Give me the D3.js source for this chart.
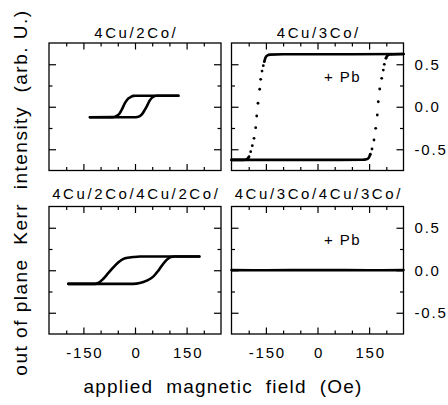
<!DOCTYPE html>
<html>
<head>
<meta charset="utf-8">
<script src="https://cdn.jsdelivr.net/npm/d3@7"></script>
<style>
  body { margin: 0; background: #fff; }
  svg { display: block; font-family: "Liberation Sans", Arial, Helvetica, sans-serif; }
</style>
</head>
<body>
<svg id="chart" width="448" height="405"></svg>
<script>
// axis ticks
const fieldTicks = [-150, 0, 150];
const fieldMinorTicks = [-200, -100, -50, 50, 100, 200];
const kerrTicks = [-0.5, 0, 0.5];
const kerrMinorTicks = [-0.25, 0.25];

const panelTitles = ['4Cu/2Co/', '4Cu/3Co/', '4Cu/2Co/4Cu/2Co/', '4Cu/3Co/4Cu/3Co/'];
const pbLabel = '+ Pb';

// 4Cu/2Co/  (field Oe, Kerr arb. U.)
const cu2coDown = [[-131, -0.124], [-65, -0.122], [-55, -0.11], [-46, -0.085], [-38, -0.03], [-29, 0.045], [-20, 0.095], [-12, 0.115], [-5, 0.128], [0, 0.13], [126, 0.13]];
const cu2coUp = [[-131, -0.124], [-5, -0.124], [10, -0.117], [20, -0.09], [28, -0.04], [35, 0.01], [43, 0.075], [52, 0.115], [62, 0.13], [126, 0.13]];

// 4Cu/3Co/ + Pb : flat parts and the sparse points of the switching
const cu3coTop = [[-154, 0.54], [-151, 0.58], [-146, 0.603], [-138, 0.613], [-100, 0.617], [0, 0.617], [100, 0.617], [250, 0.62]];
const cu3coBottom = [[-250, -0.625], [-100, -0.625], [0, -0.625], [130, -0.624], [143, -0.618], [149, -0.6], [153, -0.565]];
const cu3coTail = [[-250, -0.625], [-215, -0.625], [-206, -0.618], [-200, -0.595]];
const cu3coHead = [[199, 0.575], [203, 0.6], [210, 0.615], [250, 0.62]];
const cu3coSwitchDown = [[-154.7, 0.53], [-157.6, 0.483], [-161.3, 0.42], [-165.1, 0.323], [-168, 0.206], [-173, 0.041], [-176.7, -0.109], [-179.7, -0.246], [-184.6, -0.371], [-189.5, -0.458], [-194.2, -0.529], [-199.1, -0.588]];
const cu3coSwitchUp = [[153.5, -0.559], [158.4, -0.497], [164.2, -0.391], [169.2, -0.254], [173.8, -0.097], [176.7, 0.059], [180.8, 0.209], [186.6, 0.335], [191.3, 0.432], [194.2, 0.499], [199.1, 0.57]];

// 4Cu/2Co/4Cu/2Co/
const bilayer2Down = [[-194, -0.16], [-116, -0.16], [-107, -0.15], [-92, -0.1], [-78, -0.035], [-63, 0.035], [-48, 0.094], [-29, 0.14], [-5, 0.155], [15, 0.162], [187, 0.162]];
const bilayer2Up = [[-194, -0.16], [-5, -0.16], [14, -0.15], [34, -0.122], [53, -0.075], [68, -0.004], [82, 0.075], [92, 0.122], [102, 0.153], [116, 0.162], [187, 0.162]];

// 4Cu/3Co/4Cu/3Co/ + Pb
const bilayer3Flat = [[-250, 0.002], [-150, 0.0], [0, 0.002], [150, 0.0], [250, 0.002]];

// layout
const PANEL_W = 172;
const PANEL_H = 127.5;
const MAJOR_TICK = 6.5;
const MINOR_TICK = 3.5;

const panels = [
  { x: 49, y: 43, title: panelTitles[0], lines: [cu2coDown, cu2coUp], dots: [], pb: false, xLabels: false, yLabels: false },
  { x: 231.5, y: 43, title: panelTitles[1], lines: [cu3coTop, cu3coBottom, cu3coTail, cu3coHead], dots: [cu3coSwitchDown, cu3coSwitchUp], pb: true, xLabels: false, yLabels: true },
  { x: 49, y: 206.5, title: panelTitles[2], lines: [bilayer2Down, bilayer2Up], dots: [], pb: false, xLabels: true, yLabels: false },
  { x: 231.5, y: 206.5, title: panelTitles[3], lines: [bilayer3Flat], dots: [], pb: true, xLabels: true, yLabels: true }
];

const svg = d3.select('#chart');

const x = d3.scaleLinear().domain([-250, 250]).range([0, PANEL_W]);
const y = d3.scaleLinear().domain([-0.75, 0.75]).range([PANEL_H, 0]);

const line = d3.line()
  .x(d => x(d[0]))
  .y(d => y(d[1]))
  .curve(d3.curveMonotoneX);

const tickStyle = sel => {
  sel.select('.domain').remove();
  sel.selectAll('.tick line').attr('stroke', '#000').attr('stroke-width', 1.2);
};

const addTicks = (g, axis, transform) => {
  g.append('g')
    .attr('transform', transform)
    .call(axis)
    .call(tickStyle);
};

const labelStyle = spacing => sel => {
  sel.select('.domain').remove();
  sel.selectAll('text')
    .attr('font-size', 15)
    .attr('letter-spacing', spacing)
    .attr('fill', '#000')
    .attr('font-family', null);
};

panels.forEach(p => {
  const g = svg.append('g').attr('transform', `translate(${p.x},${p.y})`);

  // inward ticks on all four sides
  [[fieldTicks, MAJOR_TICK], [fieldMinorTicks, MINOR_TICK]].forEach(([vals, len]) => {
    addTicks(g, d3.axisBottom(x).tickValues(vals).tickSize(-len).tickFormat(''), `translate(0,${PANEL_H})`);
    addTicks(g, d3.axisTop(x).tickValues(vals).tickSize(-len).tickFormat(''), 'translate(0,0)');
  });
  [[kerrTicks, MAJOR_TICK + 0.5], [kerrMinorTicks, MINOR_TICK]].forEach(([vals, len]) => {
    addTicks(g, d3.axisLeft(y).tickValues(vals).tickSize(-len).tickFormat(''), 'translate(0,0)');
    addTicks(g, d3.axisRight(y).tickValues(vals).tickSize(-len).tickFormat(''), `translate(${PANEL_W},0)`);
  });

  g.append('rect')
    .attr('width', PANEL_W)
    .attr('height', PANEL_H)
    .attr('fill', 'none')
    .attr('stroke', '#000')
    .attr('stroke-width', 1.3);

  g.append('text')
    .attr('x', PANEL_W / 2 + 1.3)
    .attr('y', p.y < 100 ? -5 : -8)
    .attr('text-anchor', 'middle')
    .attr('font-size', 15)
    .attr('letter-spacing', 2.6)
    .text(p.title);

  if (p.xLabels) {
    g.append('g')
      .attr('transform', `translate(0,${PANEL_H})`)
      .call(d3.axisBottom(x).tickValues(fieldTicks).tickSize(0).tickPadding(13).tickFormat(d => String(d)))
      .call(labelStyle(1.8))
      .call(sel => sel.selectAll('text').attr('dx', 1));
  }

  if (p.yLabels) {
    g.append('g')
      .attr('transform', `translate(${PANEL_W},0)`)
      .call(d3.axisRight(y).tickValues(kerrTicks).tickSize(0).tickPadding(11).tickFormat(d => d.toFixed(1)))
      .call(labelStyle(1.8));
  }

  const plot = g.append('g');
  p.lines.forEach(series => {
    plot.append('path')
      .datum(series)
      .attr('d', line)
      .attr('fill', 'none')
      .attr('stroke', '#000')
      .attr('stroke-width', 2.6)
      .attr('stroke-linecap', 'round')
      .attr('stroke-linejoin', 'round');
  });
  p.dots.forEach(series => {
    plot.selectAll(null)
      .data(series)
      .join('circle')
      .attr('cx', d => x(d[0]))
      .attr('cy', d => y(d[1]))
      .attr('r', 1.4)
      .attr('fill', '#000');
  });

  if (p.pb) {
    g.append('text')
      .attr('x', x(19))
      .attr('y', y(0.296))
      .attr('font-size', 15)
      .attr('letter-spacing', 1.4)
      .text(pbLabel);
  }
});

// axis titles
svg.append('text')
  .attr('transform', 'translate(27,192.5) rotate(-90)')
  .attr('text-anchor', 'middle')
  .attr('font-size', 19)
  .attr('letter-spacing', 1.5)
  .style('white-space', 'pre')
  .text('out of plane  Kerr  intensity  (arb. U.)');

svg.append('text')
  .attr('x', 223)
  .attr('y', 393)
  .attr('text-anchor', 'middle')
  .attr('font-size', 19)
  .attr('letter-spacing', 1.2)
  .style('white-space', 'pre')
  .text('applied  magnetic  field  (Oe)');
</script>
</body>
</html>
